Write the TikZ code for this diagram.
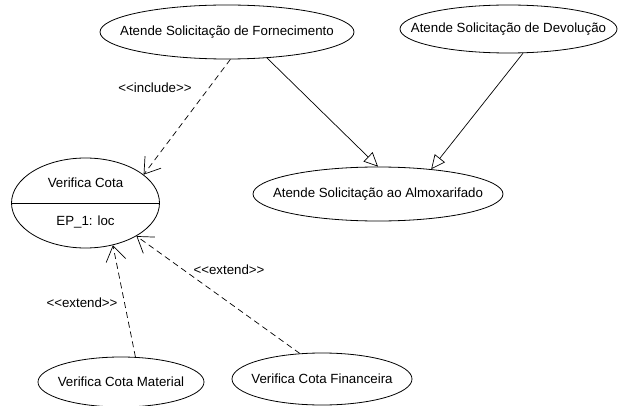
\documentclass[tikz,border=0pt]{standalone}
\usepackage{fontspec}
\setmainfont{Liberation Sans}
\usetikzlibrary{arrows.meta,shapes.geometric}

\begin{document}
\begin{tikzpicture}[x=1pt,y=-1pt,
  usecase/.style={draw,ellipse,line width=0.8pt,inner sep=0pt},
  txt/.style={font=\fontsize{13.3}{15}\selectfont},
  dep/.style={dashed,dash pattern=on 6pt off 4pt,line width=0.7pt,-{Straight Barb[length=15pt,width=20pt]}},
  gen/.style={line width=0.7pt,-{Triangle[open,length=14pt,width=13pt]}}]

\useasboundingbox (0,0) rectangle (631,406);

% Use cases
\node[usecase,minimum width=254,minimum height=54,txt] (forn) at (227,32) {\makebox[0pt]{Atende Solicitação de Fornecimento}};
\node[usecase,minimum width=217,minimum height=48,txt] (devol) at (508.5,29) {\makebox[0pt]{Atende Solicitação de Devolução}};
\node[usecase,minimum width=250,minimum height=54,txt] (almox) at (378,194) {\makebox[0pt]{Atende Solicitação ao Almoxarifado}};
\node[usecase,minimum width=166,minimum height=50,txt] (mat) at (121,382) {\makebox[0pt]{Verifica Cota Material}};
\node[usecase,minimum width=180,minimum height=52,txt] (fin) at (322,379) {\makebox[0pt]{Verifica Cota Financeira}};

% Use case with extension point
\node[usecase,minimum width=148,minimum height=90] (cota) at (85.5,203) {};
\draw[line width=0.8pt] (cota.west)--(cota.east);
\node[txt] (cotaname) at (85.5,183) {Verifica Cota};
\node[txt] (cotaep) at (85.5,222) {EP\_1: loc};

% Include
\draw[dep] (forn.-83)--(cota.26);
\node[txt] (inclbl) at (155,88) {<\kern0pt<include>\kern0pt>};

% Generalizations
\draw[gen] (forn.-33)--(almox.90);
\draw[gen] (devol.-59)--(almox.25);

% Extends
\draw[dep] (mat.60)--(cota.-57);
\node[txt] (extlbla) at (82,303) {<\kern0pt<extend>\kern0pt>};
\draw[dep] (fin.131)--(cota.-33);
\node[txt] (extlblb) at (229,270) {<\kern0pt<extend>\kern0pt>};

\end{tikzpicture}
\end{document}
